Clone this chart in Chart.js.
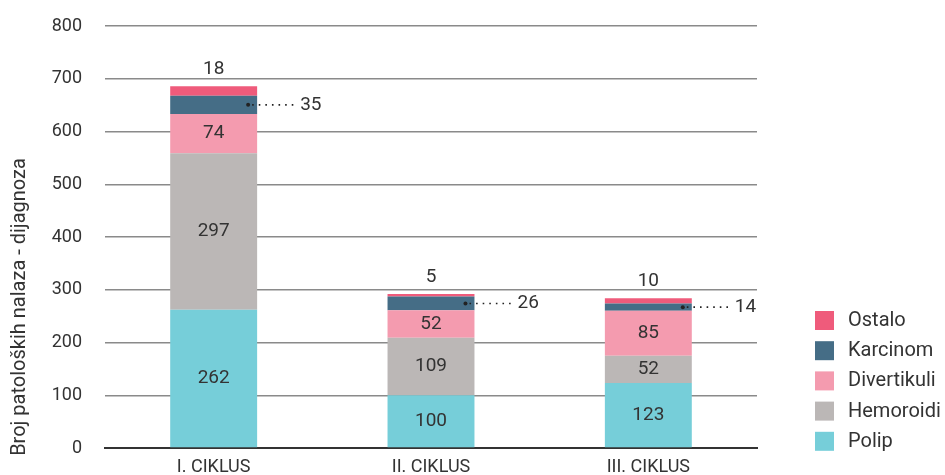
<!DOCTYPE html>
<html>
<head>
<meta charset="utf-8">
<script src="https://cdn.jsdelivr.net/npm/chart.js@4/dist/chart.umd.min.js"></script>
<style>
  html, body { margin: 0; padding: 0; background: #fff; }
  #wrap { width: 945px; height: 475px; }
</style>
</head>
<body>
<div id="wrap"><canvas id="c" width="945" height="475"></canvas></div>
<script>
const categories = ['I. CIKLUS', 'II. CIKLUS', 'III. CIKLUS'];
const seriesNames = ['Polip', 'Hemoroidi', 'Divertikuli', 'Karcinom', 'Ostalo'];
const polip = [262, 100, 123];
const hemoroidi = [297, 109, 52];
const divertikuli = [74, 52, 85];
const karcinom = [35, 26, 14];
const ostalo = [18, 5, 10];
const yTicks = [0, 100, 200, 300, 400, 500, 600, 700, 800];
const yTitle = 'Broj patoloških nalaza - dijagnoza';

const colors = ['#76CED9', '#BBB7B6', '#F49BAF', '#456D86', '#EF5B7B'];
const seriesData = [polip, hemoroidi, divertikuli, karcinom, ostalo];
const FONT = 'Roboto';
const TEXT = '#333333';

const labelPlugin = {
  id: 'labels',
  afterDatasetsDraw(chart) {
    const ctx = chart.ctx;
    ctx.save();
    ctx.fillStyle = TEXT;
    ctx.font = '19px ' + FONT;
    ctx.textBaseline = 'middle';
    chart.data.datasets.forEach((ds, di) => {
      const meta = chart.getDatasetMeta(di);
      meta.data.forEach((el, i) => {
        const v = ds.data[i];
        const top = el.y, base = el.base;
        const right = el.x + el.width / 2;
        if (di <= 2) {
          ctx.textAlign = 'center';
          ctx.fillStyle = TEXT;
          ctx.fillText(String(v), el.x, (top + base) / 2);
        } else if (di === 4) {
          ctx.textAlign = 'center';
          ctx.fillStyle = TEXT;
          ctx.fillText(String(v), el.x, top - 17);
        } else if (di === 3) {
          const cy = (top + base) / 2;
          ctx.beginPath();
          ctx.arc(right - 9, cy, 2, 0, Math.PI * 2);
          ctx.fillStyle = '#222';
          ctx.fill();
          ctx.strokeStyle = '#222';
          ctx.lineWidth = 1.6;
          ctx.setLineDash([1.6, 5]);
          ctx.beginPath();
          ctx.moveTo(right - 5, cy);
          ctx.lineTo(right + 40, cy);
          ctx.stroke();
          ctx.setLineDash([]);
          ctx.fillStyle = TEXT;
          ctx.textAlign = 'left';
          ctx.fillText(String(v), right + 43, cy);
        }
      });
    });
    ctx.restore();
  },
  afterDraw(chart) {
    const ctx = chart.ctx;
    ctx.save();
    ctx.fillStyle = TEXT;
    ctx.font = '20px ' + FONT;
    ctx.textAlign = 'center';
    ctx.textBaseline = 'middle';
    ctx.translate(20, 307);
    ctx.rotate(-Math.PI / 2);
    ctx.fillText(yTitle, 0, 0);
    ctx.restore();
    ctx.save();
    ctx.font = '20px ' + FONT;
    ctx.textBaseline = 'middle';
    ctx.textAlign = 'left';
    const n = chart.data.datasets.length;
    for (let k = 0; k < n; k++) {
      const di = n - 1 - k;
      const ds = chart.data.datasets[di];
      const y = 311 + k * 30.2;
      ctx.fillStyle = ds.backgroundColor;
      ctx.fillRect(815, y, 19, 19);
      ctx.fillStyle = TEXT;
      ctx.fillText(ds.label, 848, y + 10);
    }
    ctx.restore();
  }
};

new Chart(document.getElementById('c'), {
  type: 'bar',
  data: {
    labels: categories,
    datasets: seriesNames.map((name, i) => ({
      label: name,
      data: seriesData[i],
      backgroundColor: colors[i],
      borderWidth: 0,
      categoryPercentage: 1,
      barPercentage: 0.4
    }))
  },
  options: {
    responsive: false,
    animation: false,
    devicePixelRatio: 1,
    layout: { padding: { top: 26, right: 188, bottom: 0, left: 0 } },
    plugins: {
      legend: { display: false },
      tooltip: { enabled: false }
    },
    scales: {
      x: {
        stacked: true,
        grid: { display: false },
        border: { display: true, color: '#333333', width: 2 },
        ticks: { color: TEXT, font: { family: FONT, size: 18 }, padding: 1 },
        afterFit(s) { s.height = 27; }
      },
      y: {
        stacked: true,
        min: 0,
        max: 800,
        afterBuildTicks(s) { s.ticks = yTicks.map(v => ({ value: v })); },
        grid: { color: '#8a8a8a', lineWidth: 1.5, tickLength: 22, drawTicks: true, tickColor: 'rgba(0,0,0,0)' },
        border: { display: false },
        ticks: { color: TEXT, font: { family: FONT, size: 18 }, padding: 1 },
        afterFit(s) { s.width = 105; }
      }
    }
  },
  plugins: [labelPlugin]
});
</script>
</body>
</html>
